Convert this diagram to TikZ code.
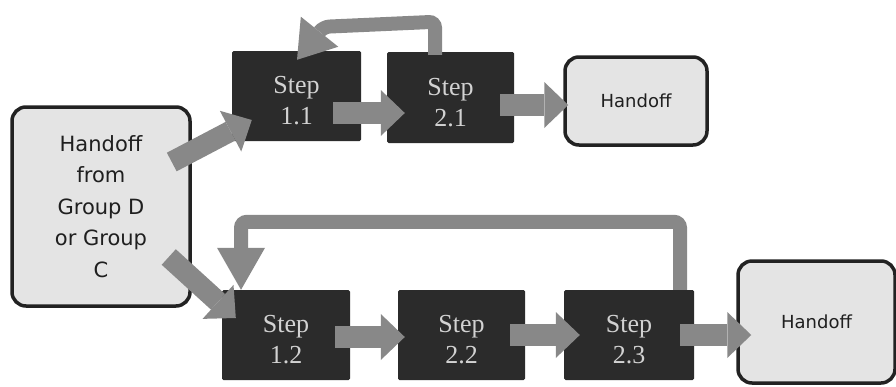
\documentclass[tikz,border=0pt]{standalone}
\usepackage{fontspec}
\setmainfont{Liberation Serif}
\newfontfamily\hsans{DejaVu Sans}
\usetikzlibrary{arrows.meta,calc}
\definecolor{stepfill}{HTML}{2B2B2B}
\definecolor{steptext}{HTML}{D2D2D2}
\definecolor{arrgray}{HTML}{888888}
\definecolor{handfill}{HTML}{E4E4E4}
\definecolor{handline}{HTML}{222222}
\begin{document}
\begin{tikzpicture}[x=1pt,y=-1pt,
  stepbox/.style={fill=stepfill, text=steptext, rounded corners=1.5pt, inner sep=0pt,
    minimum width=129pt, minimum height=90pt, align=center, text height=58pt,
    font=\fontsize{26}{31}\selectfont},
  handbox/.style={fill=handfill, draw=handline, line width=3.5pt, rounded corners=14pt,
    inner sep=0pt, align=center, text=black!88},
  bigarr/.style={draw=arrgray, line width=22pt,
    -{Triangle[width=46pt,length=24pt,line width=0pt]}},
  backarr/.style={draw=arrgray, line width=14pt, rounded corners=6pt,
    -{Triangle[width=48pt,length=#1,line width=0pt]}},
]
\useasboundingbox (0,0) rectangle (896,386);

% nodes
\node[handbox, minimum width=178pt, minimum height=199pt,
  font=\hsans\fontsize{21}{31.5}\selectfont] (left) at (101,206.5)
  {Handoff\\from\\Group D\\or Group\\C};
\node[stepbox] (s11) at (296.5,96) {Step\\1.1};
\node[stepbox, minimum width=127pt, minimum height=91pt] (s21) at (450.5,97.5) {Step\\2.1};
\node[handbox, minimum width=142pt, minimum height=88pt,
  font=\hsans\fontsize{18}{22}\selectfont] (h1) at (636,101) {Handoff};
\node[stepbox, minimum width=128pt] (s12) at (286,335) {Step\\1.2};
\node[stepbox, minimum width=127pt] (s22) at (461.5,335) {Step\\2.2};
\node[stepbox, minimum width=130pt] (s23) at (629,335) {Step\\2.3};
\node[handbox, minimum width=157pt, minimum height=122pt,
  font=\hsans\fontsize{18}{22}\selectfont] (h2) at (816.5,322) {Handoff};

% connectors
\draw[bigarr, line width=21pt] ($(left.east)+(-20,-44.5)$) -- ($(s11.west)+(20,24)$);
\draw[bigarr] ($(s11.east)+(-28,17)$) -- ($(s21.west)+(18,15.5)$);
\draw[bigarr] ($(s21.east)+(-14,7.5)$) -- ($(h1.west)+(5,4)$);
\draw[backarr=36pt] ($(s21.north)+(-15.5,3)$) -- ++(0,-33)
  -- ($(s11.north)+(27,-24)$) -- ($(s11.north)+(0.5,9)$);

\draw[bigarr, line width=21pt] ($(left.east)+(-23,50.5)$) -- ($(s12.west)+(14,-17)$);
\draw[backarr=42pt] ($(s23.north)+(51,0)$) |- ($(s12.north)+(-45,-68)$)
  -- ($(s12.north)+(-45,0)$);
\draw[bigarr] ($(s12.east)+(-15,2)$) -- ($(s22.west)+(7,2)$);
\draw[bigarr] ($(s22.east)+(-15,0)$) -- ($(s23.west)+(16,0)$);
\draw[bigarr] ($(s23.east)+(-14,0)$) -- ($(h2.west)+(15,13)$);
\end{tikzpicture}
\end{document}
